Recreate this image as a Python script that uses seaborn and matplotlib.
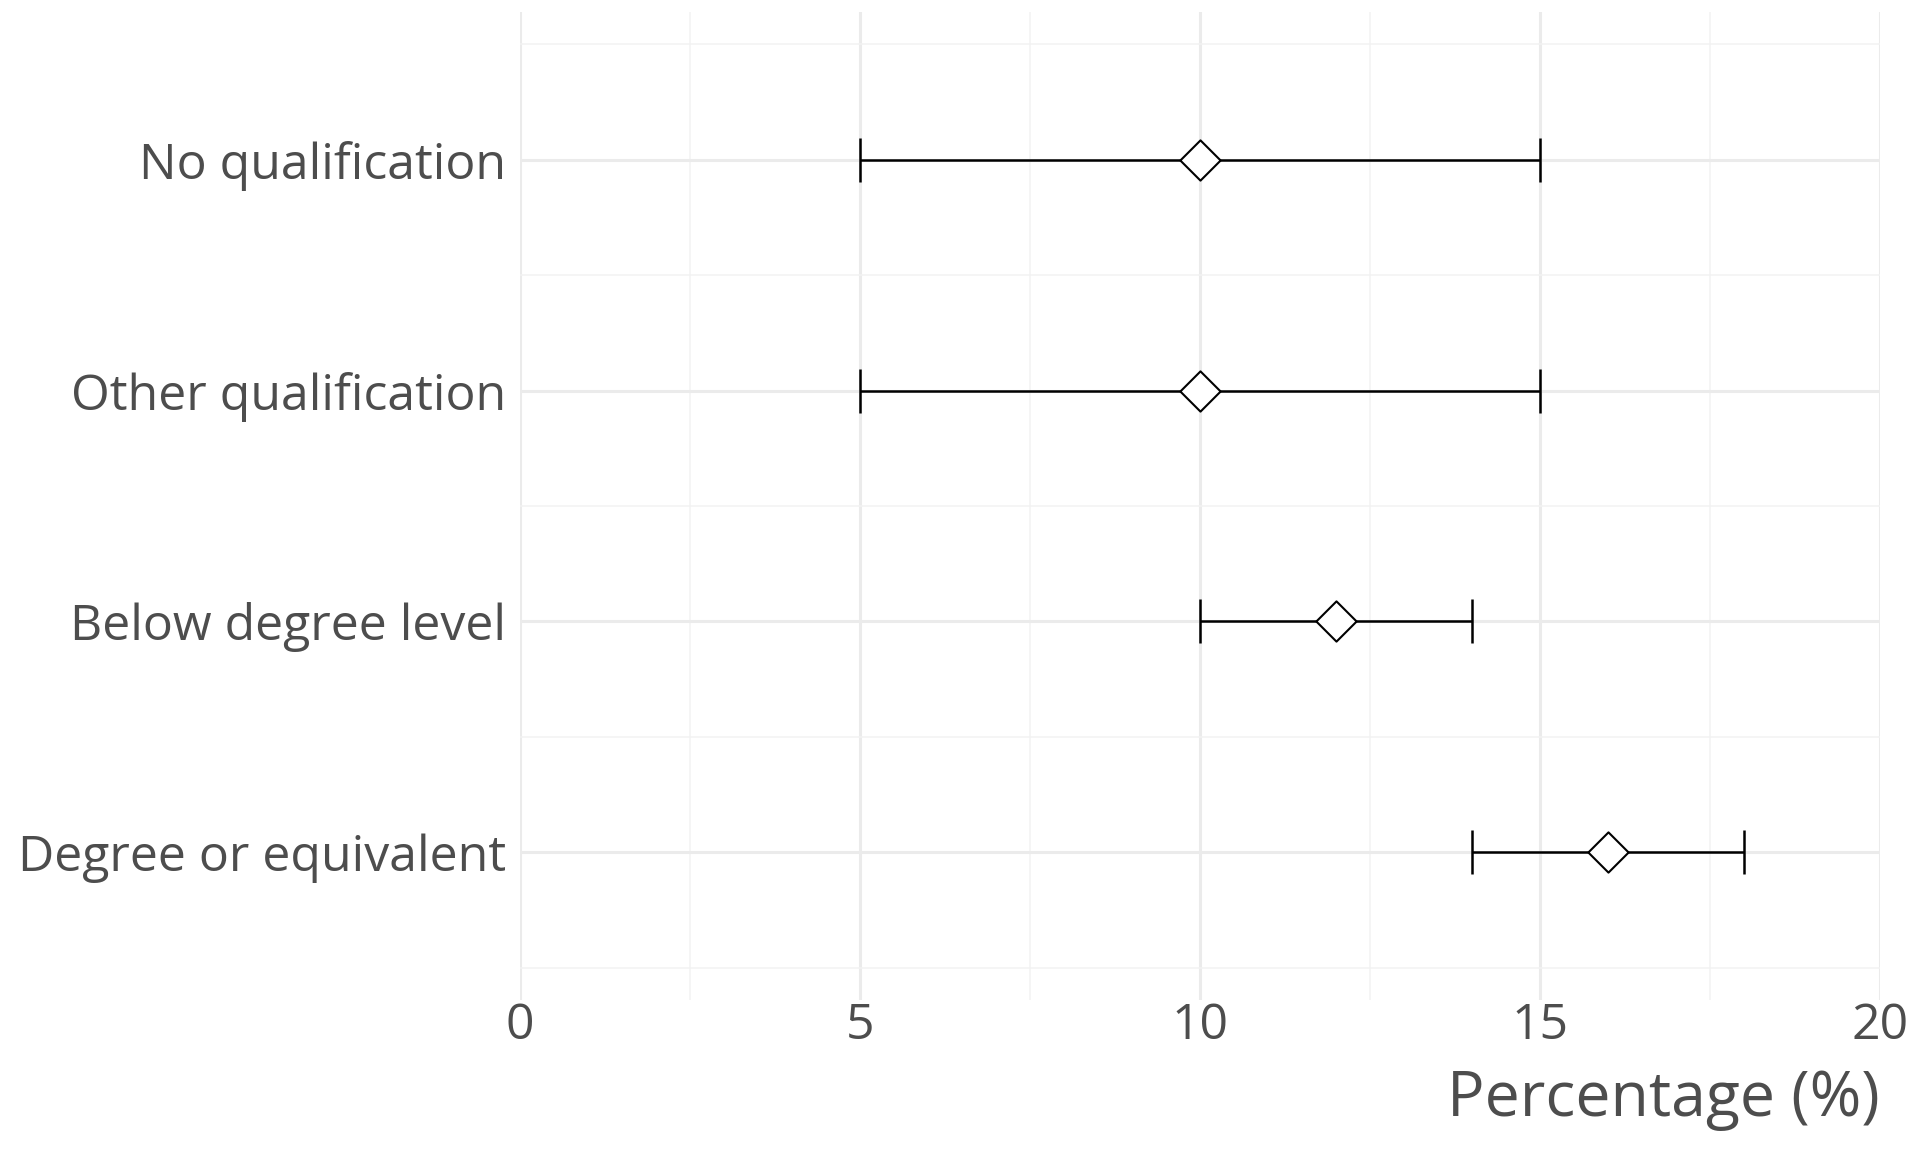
import numpy as np
import pandas as pd
import matplotlib.pyplot as plt
import seaborn as sns
from matplotlib.ticker import MultipleLocator

categories = ["No qualification", "Other qualification", "Below degree level", "Degree or equivalent"]
estimate = [10, 10, 12, 16]
lower = [5, 5, 10, 14]
upper = [15, 15, 14, 18]

df = pd.DataFrame({"category": categories, "estimate": estimate, "lower": lower, "upper": upper})
df["pos"] = np.arange(len(df))

sns.set_theme(style="white")
plt.rcParams["font.family"] = ["Open Sans", "DejaVu Sans"]

fig = plt.figure(figsize=(19.2, 11.52), dpi=100)
ax = fig.add_axes([520 / 1920, 1 - 1000 / 1152, 1360 / 1920, 988 / 1152])

# error bars
ax.errorbar(df["estimate"], df["pos"],
            xerr=[df["estimate"] - df["lower"], df["upper"] - df["estimate"]],
            fmt="none", ecolor="black", elinewidth=1.8, capsize=16, capthick=1.8, zorder=3)

sns.scatterplot(data=df, x="estimate", y="pos", marker="D", s=420, color="white",
                edgecolor="black", linewidth=1.5, zorder=4, ax=ax, legend=False)

ax.set_xlim(0, 20)
ax.set_ylim(len(df) - 1 + 0.64, -0.64)
ax.xaxis.set_major_locator(MultipleLocator(5))
ax.xaxis.set_minor_locator(MultipleLocator(2.5))
ax.set_yticks(df["pos"])
ax.set_yticklabels(categories)
ax.yaxis.set_minor_locator(MultipleLocator(0.5))

ax.grid(which="major", color="#EBEBEB", linewidth=2.2)
ax.grid(which="minor", color="#F2F2F2", linewidth=1.1)
ax.set_axisbelow(True)
for s in ax.spines.values():
    s.set_visible(False)

ax.tick_params(axis="both", which="both", length=0, labelsize=36, labelcolor="#4D4D4D")
ax.tick_params(axis="x", pad=1)
ax.tick_params(axis="y", pad=10)

ax.set_ylabel("")
ax.set_xlabel("Percentage (%)", fontsize=45, color="#4D4D4D", loc="right", labelpad=13)

fig.savefig("out.png", dpi=100)
